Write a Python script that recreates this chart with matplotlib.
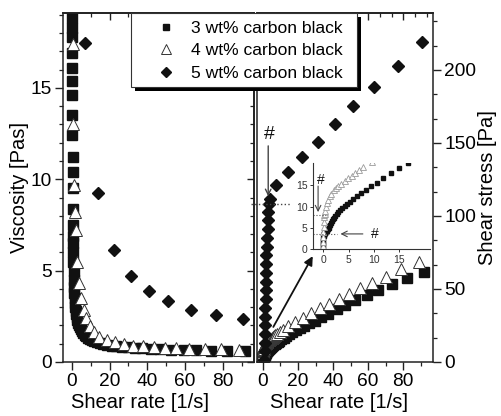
import matplotlib
matplotlib.use("Agg")
import matplotlib.pyplot as plt
from matplotlib.ticker import MultipleLocator, NullFormatter
from matplotlib.patches import Rectangle
from matplotlib.lines import Line2D

plt.rcParams['font.family'] = ['Liberation Sans', 'DejaVu Sans']

# ---------------- data ----------------
labels = ['3 wt% carbon black', '4 wt% carbon black', '5 wt% carbon black']

# viscosity curves (left panel)
rate_v3 = [0.19, 0.197, 0.205, 0.216, 0.228, 0.24, 0.255, 0.28, 0.31, 0.345,
           0.375, 0.415, 0.48, 0.55, 0.61, 0.66, 0.73, 0.82, 0.94, 1.06,
           1.19, 1.33, 1.49, 1.68, 1.88, 2.11, 2.37, 2.65, 2.98, 3.34,
           3.75, 4.2, 4.7, 5.3, 5.9, 6.7, 7.5, 8.4, 9.4, 10.5,
           11.8, 13.3, 14.9, 16.7, 18.7, 21.0, 23.6, 26.5, 29.7, 33.3,
           37.3, 42.1, 46.9, 52.6, 59.2, 65.9, 73.5, 82.1, 91.6]
visc3 = [18.8, 18.3, 17.8, 16.9, 16.1, 15.4, 14.6, 13.5, 12.4, 11.2,
         10.4, 9.5, 8.4, 7.5, 6.9, 6.5, 6.0, 5.5, 5.0, 4.5,
         4.1, 3.8, 3.5, 3.25, 3.0, 2.8, 2.6, 2.45, 2.3, 2.15,
         2.02, 1.9, 1.78, 1.68, 1.59, 1.5, 1.42, 1.34, 1.27, 1.2,
         1.14, 1.08, 1.03, 0.98, 0.94, 0.90, 0.86, 0.83, 0.80, 0.77,
         0.74, 0.71, 0.69, 0.67, 0.65, 0.63, 0.61, 0.60, 0.59]

rate_v4 = [0.55, 0.85, 1.2, 1.6, 2.1, 2.8, 3.6, 4.9, 6.2, 7.6, 9.4, 11.5, 14.5,
           18.5, 22.8, 27.6, 32.5, 37.8, 43.4, 49.2, 55.4, 62.1, 70.3, 79.0, 88.8]
visc4 = [17.4, 13.0, 9.7, 8.2, 7.2, 5.5, 4.3, 3.5, 2.85, 2.4, 1.95, 1.62, 1.37,
         1.2, 1.07, 0.97, 0.9, 0.85, 0.8, 0.77, 0.75, 0.73, 0.71, 0.70, 0.68]

rate_v5 = [6.9, 13.6, 22.3, 31.3, 40.8, 51.1, 63.0, 76.4, 90.9]
visc5 = [17.45, 9.27, 6.15, 4.69, 3.87, 3.33, 2.87, 2.56, 2.33]

# flow curves (right panel and inset)
rate_s3 = [0.003, 0.006, 0.01, 0.02, 0.04, 0.07, 0.11, 0.15, 0.19, 0.205,
           0.228, 0.255, 0.31, 0.375, 0.48, 0.61, 0.73, 0.82, 0.94, 1.06,
           1.19, 1.33, 1.49, 1.68, 1.88, 2.11, 2.37, 2.65, 2.98, 3.34,
           3.75, 4.2, 4.7, 5.3, 5.9, 6.7, 7.5, 8.4, 9.4, 10.5,
           11.8, 13.3, 14.9, 16.7, 18.7, 21.0, 23.6, 26.5, 29.7, 33.3,
           37.3, 42.1, 46.9, 52.6, 59.2, 65.9, 73.5, 82.1, 91.6]
stress3 = [0.4, 0.9, 1.4, 2.0, 2.6, 3.0, 3.3, 3.5, 3.57, 3.65,
           3.67, 3.72, 3.84, 3.9, 4.03, 4.21, 4.38, 4.51, 4.75, 5.0,
           5.4, 5.8, 6.2, 6.6, 7.0, 7.4, 7.8, 8.25, 8.7, 9.15,
           9.6, 10.1, 10.6, 11.1, 11.7, 12.4, 13.1, 13.9, 14.7, 15.6,
           16.6, 17.8, 19.0, 20.3, 21.6, 23.0, 24.6, 26.4, 28.4, 30.6,
           33.2, 36.2, 39.2, 42.6, 45.9, 49.3, 53.1, 57.7, 61.8]

rate_s4 = [0.006, 0.015, 0.03, 0.06, 0.1, 0.15, 0.2, 0.25, 0.3, 0.38,
           0.5, 0.7, 0.95, 1.3, 1.6, 2.1, 2.5, 3.0, 3.6, 4.3,
           4.9, 5.6, 6.3, 7.1, 7.9, 9.6, 11.6, 14.5, 18.5, 22.8,
           27.6, 32.5, 37.8, 43.4, 49.2, 55.4, 62.1, 70.3, 79.0, 88.8]
stress4 = [0.8, 1.7, 2.8, 4.0, 5.2, 6.5, 7.5, 8.0, 8.3, 8.9,
           10.0, 10.8, 11.5, 12.4, 13.0, 13.8, 14.3, 14.8, 15.4, 16.0,
           16.6, 17.2, 17.8, 18.5, 19.2, 20.5, 22.0, 24.7, 27.5, 30.3,
           33.5, 36.8, 40.0, 43.3, 46.3, 50.4, 53.8, 58.0, 63.6, 68.3]

rate_s5 = [0.8, 0.9, 1.0, 1.1, 1.2, 1.3, 1.4, 1.5, 1.6, 1.7, 1.8, 1.9, 2.0,
           2.2, 2.4, 2.6, 2.8, 3.0, 3.2,
           4.0, 7.4, 14.1, 22.1, 31.6, 41.1, 51.6, 63.6, 77.3, 90.7]
stress5 = [1.5, 7.5, 13, 19, 25, 31, 37, 43, 49, 55, 61, 67, 73,
           79, 85, 91, 97, 103, 108,
           111.6, 121, 130.3, 140.6, 151, 162.8, 175, 188.6, 203, 219]

# yield stresses marked with '#'
yield3, yield4, yield5 = 3.6, 8.0, 108.5

# ---------------- figure ----------------
W, H = 501, 416
fig = plt.figure(figsize=(W / 100, H / 100), dpi=100)


def px_rect(x0, y0, x1, y1):
    return [x0 / W, 1 - y1 / H, (x1 - x0) / W, (y1 - y0) / H]


ax1 = fig.add_axes(px_rect(63, 13, 254, 362))
ax2 = fig.add_axes(px_rect(257, 13, 433, 362))
axin = fig.add_axes(px_rect(313, 163, 430, 249.3))

TICK_FS = 13.8
LABEL_FS = 14.5
ink = '#111111'

sq = dict(ls='none', marker='s', color=ink, mec=ink)
tri = dict(ls='none', marker='^', mfc='white', mec='#333333', mew=0.7)
dia = dict(ls='none', marker='D', color=ink, mec=ink)

# left panel: viscosity
ax1.plot(rate_v3, visc3, ms=6.5, **sq)
ax1.plot(rate_v4, visc4, ms=8, **tri)
ax1.plot(rate_v5, visc5, ms=6, **dia)
ax1.set_xlim(-4.7, 96.5)
ax1.set_ylim(0, 19.1)
ax1.set_xlabel('Shear rate [1/s]', fontsize=LABEL_FS)
ax1.set_ylabel('Viscosity [Pas]', fontsize=LABEL_FS)
ax1.xaxis.set_label_coords(0.403, -0.09)
ax1.yaxis.set_label_coords(-0.18, 0.5)
ax1.xaxis.set_major_locator(MultipleLocator(20))
ax1.xaxis.set_minor_locator(MultipleLocator(10))
ax1.yaxis.set_major_locator(MultipleLocator(5))
ax1.yaxis.set_minor_locator(MultipleLocator(1))
ax1.set_xticks([0, 20, 40, 60, 80])

# right panel: shear stress
ax2.plot(rate_s3, stress3, ms=6.5, **sq)
ax2.plot(rate_s4, stress4, ms=8, **tri)
ax2.plot(rate_s5, stress5, ms=6, **dia)
ax2.set_xlim(-3.4, 97)
ax2.set_ylim(0, 239)
ax2.set_xlabel('Shear rate [1/s]', fontsize=LABEL_FS)
ax2.yaxis.tick_right()
ax2.yaxis.set_label_position('right')
ax2.set_ylabel('Shear stress [Pa]', fontsize=LABEL_FS)
ax2.xaxis.set_label_coords(0.466, -0.09)
ax2.yaxis.set_label_coords(1.255, 0.5)
ax2.xaxis.set_major_locator(MultipleLocator(20))
ax2.xaxis.set_minor_locator(MultipleLocator(10))
ax2.set_xticks([0, 20, 40, 60, 80])
ax2.yaxis.set_major_locator(MultipleLocator(50))
ax2.yaxis.set_minor_locator(MultipleLocator(50 / 3))

for ax in (ax1, ax2):
    for s in ax.spines.values():
        s.set_linewidth(1.1)
        s.set_color('#222222')
    ax.tick_params(which='major', direction='out', length=5.5, width=1.0,
                   labelsize=TICK_FS, pad=2.5, color='#222222')
    ax.tick_params(which='minor', direction='out', length=3, width=0.9,
                   color='#222222')
ax1.tick_params(axis='both', top=False, right=False)
ax2.tick_params(axis='y', left=False, labelleft=False)
ax2.tick_params(axis='x', top=False)

# mirrored inward ticks on the closed sides
top1 = ax1.secondary_xaxis('top')
right1 = ax1.secondary_yaxis('right')
top2 = ax2.secondary_xaxis('top')
for sec, axis in ((top1, 'x'), (right1, 'y'), (top2, 'x')):
    a = sec.xaxis if axis == 'x' else sec.yaxis
    sec.tick_params(which='major', direction='in', length=5, width=1.0,
                    color='#222222')
    sec.tick_params(which='minor', direction='in', length=3, width=0.9,
                    color='#222222')
    a.set_major_formatter(NullFormatter())
    for s in sec.spines.values():
        s.set_linewidth(1.1)
top1.xaxis.set_major_locator(MultipleLocator(20))
top1.xaxis.set_minor_locator(MultipleLocator(10))
right1.yaxis.set_major_locator(MultipleLocator(5))
right1.yaxis.set_minor_locator(MultipleLocator(1))
top2.xaxis.set_major_locator(MultipleLocator(20))
top2.xaxis.set_minor_locator(MultipleLocator(20 / 3))

# yield marker for 5 wt%
ax2.plot([-7, 15.4], [yield5, yield5], ls=':', color='#444444', lw=1.0,
         clip_on=False)
ax2.annotate('', xy=(3.0, 113.5), xytext=(3.0, 148),
             arrowprops=dict(arrowstyle='->', color='#444444', lw=1.0,
                             shrinkA=0, shrinkB=0))
ax2.text(3.4, 156, '#', fontsize=14, ha='center', va='center', color=ink)
# pointer to inset
ax2.annotate('', xy=(28.4, 72.5), xytext=(5.9, 24),
             arrowprops=dict(arrowstyle='-|>', color=ink, lw=1.3,
                             mutation_scale=13, shrinkA=0, shrinkB=0))

# inset: low shear-rate region of the flow curves
axin.patch.set_alpha(0)
axin.plot(rate_s3, stress3, ls='none', marker='s', ms=3.2, color=ink,
          mec=ink, clip_on=True)
axin.plot(rate_s4, stress4, ls='none', marker='^', ms=5, mfc='white',
          mec='#9a9a9a', mew=0.6)
axin.set_xlim(-2, 21)
axin.set_ylim(0, 20.2)
axin.spines['top'].set_visible(False)
axin.spines['right'].set_visible(False)
for s in ('left', 'bottom'):
    axin.spines[s].set_linewidth(0.8)
    axin.spines[s].set_color('#333333')
axin.set_xticks([0, 5, 10, 15])
axin.set_yticks([0, 5, 10, 15])
axin.tick_params(direction='out', length=2.5, width=0.7, labelsize=7.5,
                 pad=1.5, color='#333333', labelcolor='#333333')
axin.plot([-2, 0.9], [yield4, yield4], ls=':', color='#555555', lw=0.8)
axin.annotate('', xy=(-1.0, 8.7), xytext=(-1.0, 14.8),
              arrowprops=dict(arrowstyle='->', color='#444444', lw=0.8,
                              shrinkA=0, shrinkB=0))
axin.text(-0.4, 16.3, '#', fontsize=10, ha='center', va='center', color=ink)
axin.plot([-2, 2.8], [yield3, yield3], ls=':', color='#555555', lw=0.8)
axin.annotate('', xy=(3.4, yield3), xytext=(7.8, yield3),
              arrowprops=dict(arrowstyle='->', color='#444444', lw=0.8,
                              shrinkA=0, shrinkB=0))
axin.text(10.1, yield3, '#', fontsize=10, ha='center', va='center', color=ink)

# legend with a solid drop shadow
fig.add_artist(Rectangle((135 / W, 1 - 91 / H), 226 / W, 74 / H,
                         transform=fig.transFigure, facecolor='black',
                         edgecolor='none', zorder=3))
fig.add_artist(Rectangle((131 / W, 1 - 87 / H), 226 / W, 74 / H,
                         transform=fig.transFigure, facecolor='white',
                         edgecolor='#333333', lw=0.8, zorder=4))
handles = [Line2D([], [], ms=5, **sq),
           Line2D([], [], ms=6.5, **tri),
           Line2D([], [], ms=5.5, **dia)]
fig.legend(handles, labels, loc='upper left',
           bbox_to_anchor=(155.7 / W, 1 - 20.5 / H), frameon=False,
           borderaxespad=0, borderpad=0, handlelength=1.2,
           handletextpad=0.8, labelspacing=0.42, fontsize=12.6)

fig.savefig('out.png', dpi=100)
